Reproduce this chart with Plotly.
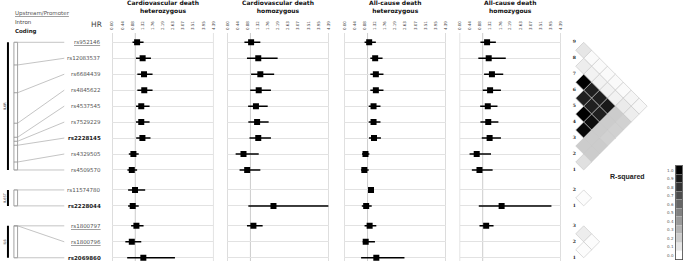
import plotly.graph_objects as go

W, H = 685, 261

# ---------------- data ----------------
snps = ["rs952146", "rs12083537", "rs6684439", "rs4845622", "rs4537545", "rs7529229",
        "rs2228145", "rs4329505", "rs4509570", "rs11574780", "rs2228044",
        "rs1800797", "rs1800796", "rs2069860"]
snp_group = [0, 0, 0, 0, 0, 0, 0, 0, 0, 1, 1, 2, 2, 2]
snp_type = ["promoter", "intron", "intron", "intron", "intron", "intron", "coding", "intron",
            "intron", "intron", "coding", "promoter", "promoter", "coding"]
gene_names = ["IL6R", "IL6ST", "IL6"]
# relative position of each SNP along the gene drawing (in row units from the gene start)
gene_offset = [0, 1.42, 3.16, 5.07, 5.95, 6.2, 6.45, 7.5, 8.0, 0, 1, 0, 0, 2]

hr_tick_labels = ["0.00", "0.44", "0.88", "1.32", "1.76", "2.19", "2.63", "3.07", "3.51", "3.95", "4.39"]
panel_titles = ["Cardiovascular death<br>heterozygous", "Cardiovascular death<br>homozygous",
                "All-cause death<br>heterozygous", "All-cause death<br>homozygous"]

cv_het_hr = [1.08, 1.32, 1.38, 1.39, 1.26, 1.26, 1.31, 0.92, 0.85, 0.99, 0.89, 1.05, 0.85, 1.35]
cv_het_lo = [0.88, 1.03, 1.09, 1.09, 1.03, 1.03, 1.04, 0.72, 0.66, 0.69, 0.69, 0.82, 0.57, 0.65]
cv_het_hi = [1.36, 1.68, 1.75, 1.75, 1.62, 1.62, 1.66, 1.15, 1.08, 1.43, 1.15, 1.36, 1.26, 2.72]

cv_hom_hr = [1.03, 1.34, 1.43, 1.36, 1.24, 1.29, 1.34, 0.70, 0.86, None, 2.00, 1.13, None, None]
cv_hom_lo = [0.74, 0.85, 1.03, 0.99, 0.90, 0.91, 0.96, 0.36, 0.53, None, 0.91, 0.85, None, None]
cv_hom_hi = [1.43, 2.18, 2.03, 1.89, 1.75, 1.79, 1.89, 1.36, 1.43, None, 4.39, 1.53, None, None]

ac_het_hr = [1.07, 1.33, 1.36, 1.36, 1.26, 1.26, 1.28, 0.91, 0.86, 1.15, 0.94, 1.09, 0.92, 1.38]
ac_het_lo = [0.87, 1.12, 1.12, 1.12, 1.05, 1.05, 1.06, 0.76, 0.72, 1.10, 0.75, 0.87, 0.79, 0.72]
ac_het_hi = [1.36, 1.65, 1.69, 1.69, 1.56, 1.56, 1.58, 1.08, 1.05, 1.20, 1.18, 1.38, 1.32, 2.60]

ac_hom_hr = [1.19, 1.26, 1.40, 1.32, 1.22, 1.24, 1.30, 0.74, 0.86, None, 1.82, 1.15, None, None]
ac_hom_lo = [0.90, 0.81, 1.06, 1.00, 0.89, 0.90, 0.96, 0.43, 0.53, None, 0.83, 0.86, None, None]
ac_hom_hi = [1.57, 2.00, 1.89, 1.79, 1.64, 1.68, 1.79, 1.36, 1.43, None, 3.98, 1.47, None, None]

# LD (r-squared), lower triangle per gene, rows in plot order (top to bottom)
ld_r2_il6r = [
    [],
    [0.10],
    [0.02, 0.07],
    [0.02, 0.05, 1.00],
    [0.02, 0.05, 0.88, 0.88],
    [0.02, 0.05, 0.88, 0.88, 1.00],
    [0.02, 0.05, 0.90, 0.88, 0.95, 0.97],
    [0.04, 0.08, 0.20, 0.20, 0.20, 0.20, 0.20],
    [0.03, 0.07, 0.18, 0.18, 0.18, 0.20, 0.20, 0.12],
]
ld_r2_il6st = [[], [0.01]]
ld_r2_il6 = [[], [0.07], [0.01, 0.01]]

r2_levels = [0.0, 0.1, 0.2, 0.3, 0.4, 0.5, 0.6, 0.7, 0.8, 0.9, 1.0]
r2_labels = ["0.0", "0.1", "0.2", "0.3", "0.4", "0.5", "0.6", "0.7", "0.8", "0.9", "1.0"]

# ---------------- geometry ----------------
def px(x):
    return x / W

def py(y):
    return 1 - y / H

ROW0, ROWH = 42.3, 15.96
TOP_PIX = 33
y_range = [(H - ROW0) / ROWH, (TOP_PIX - ROW0) / ROWH]
y_domain = [0, 1 - TOP_PIX / H]
pos = [i + 0.25 * g for i, g in enumerate(snp_group)]

panel_pix = [(110, 212), (226, 328), (344, 446), (460, 562)]
panels = [(cv_het_hr, cv_het_lo, cv_het_hi), (cv_hom_hr, cv_hom_lo, cv_hom_hi),
          (ac_het_hr, ac_het_lo, ac_het_hi), (ac_hom_hr, ac_hom_lo, ac_hom_hi)]

FONT = "DejaVu Sans"
fig = go.Figure()
shapes = []
annotations = []
layout = dict(width=W, height=H, margin=dict(l=0, r=0, t=0, b=0, pad=0),
              paper_bgcolor="white", plot_bgcolor="rgba(0,0,0,0)", showlegend=False,
              font=dict(family=FONT))

HR_MAX = float(hr_tick_labels[-1])
tick_vals = [float(t) for t in hr_tick_labels]

# ---------------- forest panels ----------------
for k, ((x0, x1), (hr, lo, hi)) in enumerate(zip(panel_pix, panels)):
    xa = "x" if k == 0 else f"x{k+1}"
    xs, ys, ep, em = [], [], [], []
    for p, h, l, u in zip(pos, hr, lo, hi):
        if h is None:
            continue
        xs.append(h); ys.append(p); ep.append(u - h); em.append(h - l)
    fig.add_trace(go.Scatter(
        x=xs, y=ys, xaxis=xa, yaxis="y", mode="markers",
        marker=dict(symbol="square", size=6, color="black"),
        error_x=dict(type="data", symmetric=False, array=ep, arrayminus=em,
                     color="black", thickness=1.5, width=0),
        hoverinfo="skip"))
    key = "xaxis" if k == 0 else f"xaxis{k+1}"
    layout[key] = dict(domain=[px(x0), px(x1)], range=[0, HR_MAX], anchor="y", side="top",
                       tickvals=tick_vals, ticktext=hr_tick_labels, tickangle=-90,
                       tickfont=dict(size=4, family=FONT, color="#444"),
                       showgrid=False, zeroline=False, showline=False, ticks="",
                       ticklabelstandoff=2, fixedrange=True)
    for xv, col in ((0, "#c2c2c2"), (HR_MAX, "#c2c2c2"), (1.0, "#cccccc")):
        shapes.append(dict(type="line", xref=xa, yref="y domain", x0=xv, x1=xv, y0=0, y1=1,
                           line=dict(color=col, width=1), layer="below"))
    annotations.append(dict(text="<b>" + panel_titles[k] + "</b>", xref="paper", yref="paper",
                            x=px((x0 + x1) / 2), y=py(7), xanchor="center", yanchor="middle",
                            showarrow=False, font=dict(size=6, family=FONT, color="#111"),
                            borderpad=0))

layout["yaxis"] = dict(domain=y_domain, range=y_range, tickvals=pos, showticklabels=False,
                       showgrid=True, gridcolor="#e2e2e2", gridwidth=1, zeroline=False,
                       showline=False, ticks="", fixedrange=True)

# ---------------- gene structure (left) ----------------
GX = 110
layout["xaxis5"] = dict(domain=[0, px(GX)], range=[0, GX], anchor="y2", visible=False, fixedrange=True)
layout["yaxis2"] = dict(domain=y_domain, range=y_range, anchor="x5", visible=False, fixedrange=True)

bar_x, box_l, box_r, lab_x = 5, 11, 14.7, 61.7
for g, name in enumerate(gene_names):
    idx = [i for i, gg in enumerate(snp_group) if gg == g]
    top, bot = pos[idx[0]], pos[idx[-1]]
    fig.add_trace(go.Scatter(x=[bar_x, bar_x], y=[top, bot], xaxis="x5", yaxis="y2", mode="lines",
                             line=dict(color="black", width=2), hoverinfo="skip"))
    bx, byy = [], []
    for xv in (box_l, box_r):
        bx += [xv, xv, None]; byy += [top, bot, None]
    for i in idx:
        gy = top + gene_offset[i]
        bx += [box_l, box_r, None]; byy += [gy, gy, None]
    fig.add_trace(go.Scatter(x=bx, y=byy, xaxis="x5", yaxis="y2", mode="lines",
                             line=dict(color="#8a8a8a", width=0.8), hoverinfo="skip"))
    cx, cy = [], []
    for i in idx:
        gy = top + gene_offset[i]
        start = box_l if (gy == top or gy == bot) and abs(gy - pos[i]) < 1e-9 else box_r
        cx += [start, lab_x, None]; cy += [gy, pos[i], None]
    fig.add_trace(go.Scatter(x=cx, y=cy, xaxis="x5", yaxis="y2", mode="lines",
                             line=dict(color="#aaaaaa", width=0.7), hoverinfo="skip"))
    annotations.append(dict(text=name, xref="x5", yref="y2", x=1.8, y=(top + bot) / 2,
                            textangle=-90, showarrow=False, borderpad=0,
                            font=dict(size=3.5, family=FONT, color="#333")))

for i, s in enumerate(snps):
    t = snp_type[i]
    if t == "coding":
        txt, col = "<b>" + s + "</b>", "#1a1a1a"
    elif t == "promoter":
        txt, col = "<u>" + s + "</u>", "#555"
    else:
        txt, col = s, "#555"
    annotations.append(dict(text=txt, xref="x5", yref="y2", x=99.5, y=pos[i], xanchor="right",
                            yanchor="middle", showarrow=False, borderpad=0,
                            font=dict(size=5.5, family=FONT, color=col)))

legend_items = [("<u>Upstream/Promoter</u>", "#555", 13.3), ("Intron", "#444", 22.3),
                ("<b>Coding</b>", "#1a1a1a", 31.3)]
for txt, col, yy in legend_items:
    annotations.append(dict(text=txt, xref="paper", yref="paper", x=px(11), y=py(yy),
                            xanchor="left", yanchor="middle", showarrow=False, borderpad=0,
                            font=dict(size=5.5, family=FONT, color=col)))
annotations.append(dict(text="HR", xref="paper", yref="paper", x=px(94.5), y=py(24.5),
                        xanchor="center", yanchor="middle", showarrow=False, borderpad=0,
                        font=dict(size=7.5, family=FONT, color="#444")))

# ---------------- LD triangles ----------------
LD_X0 = 577
LD_L = 565
layout["xaxis6"] = dict(domain=[px(LD_L), 1], range=[(LD_L - LD_X0) / ROWH, (W - LD_X0) / ROWH],
                        anchor="y3", visible=False, fixedrange=True)
layout["yaxis3"] = dict(domain=y_domain, range=y_range, anchor="x6", visible=False, fixedrange=True)

ld_x, ld_y, ld_c = [], [], []
num_x, num_y, num_t = [], [], []
for g, mat in enumerate([ld_r2_il6r, ld_r2_il6st, ld_r2_il6]):
    idx = [i for i, gg in enumerate(snp_group) if gg == g]
    n = len(idx)
    for a in range(n):
        num_x.append(-0.1); num_y.append(pos[idx[a]]); num_t.append("<b>%d</b>" % (n - a))
        for b in range(a):
            ld_x.append((a - b) * 0.5)
            ld_y.append((pos[idx[a]] + pos[idx[b]]) / 2)
            ld_c.append(mat[a][b])

grey_scale = [[0, "rgb(255,255,255)"], [1, "rgb(0,0,0)"]]
fig.add_trace(go.Scatter(x=ld_x, y=ld_y, xaxis="x6", yaxis="y3", mode="markers",
                         marker=dict(symbol="diamond", size=ROWH / 1.3, color=ld_c,
                                     colorscale=grey_scale, cmin=0, cmax=1,
                                     line=dict(color="#c4c4c4", width=0.6)),
                         hoverinfo="skip"))
fig.add_trace(go.Scatter(x=num_x, y=num_y, xaxis="x6", yaxis="y3", mode="text", text=num_t,
                         textposition="middle center", cliponaxis=False,
                         textfont=dict(size=4.5, family="DejaVu Serif", color="#222"),
                         hoverinfo="skip"))

annotations.append(dict(text="<b>R-squared</b>", xref="paper", yref="paper", x=px(629.5), y=py(177),
                        xanchor="center", yanchor="middle", showarrow=False, borderpad=0,
                        font=dict(size=7, family="Liberation Sans", color="#222")))

# ---------------- colour key ----------------
CB_TOP, CB_BOT = 166, 259.5
layout["xaxis7"] = dict(domain=[px(678), px(684.5)], range=[-0.5, 0.5], anchor="y4",
                        showticklabels=False, ticks="", showgrid=False, zeroline=False,
                        showline=True, mirror=True, linecolor="#444", linewidth=0.8, fixedrange=True)
layout["yaxis4"] = dict(domain=[py(CB_BOT), py(CB_TOP)], range=[-0.5, len(r2_levels) - 0.5],
                        anchor="x7", tickvals=list(range(len(r2_levels))), ticktext=r2_labels,
                        tickfont=dict(size=4, family=FONT, color="#555"), ticks="",
                        showgrid=False, zeroline=False, showline=True, mirror=True,
                        linecolor="#444", linewidth=0.8, ticklabelstandoff=1, fixedrange=True)
fig.add_trace(go.Heatmap(z=[[v] for v in r2_levels], x=[0], y=list(range(len(r2_levels))),
                         xaxis="x7", yaxis="y4", colorscale=grey_scale, zmin=0, zmax=1,
                         showscale=False, ygap=0.4, hoverinfo="skip"))

layout["shapes"] = shapes
layout["annotations"] = annotations
fig.update_layout(**layout)

fig.write_html("out.html", include_plotlyjs=True, config={"displayModeBar": False, "staticPlot": True},
               post_script="document.body.style.margin='0';document.body.style.padding='0';document.body.style.overflow='hidden';")
